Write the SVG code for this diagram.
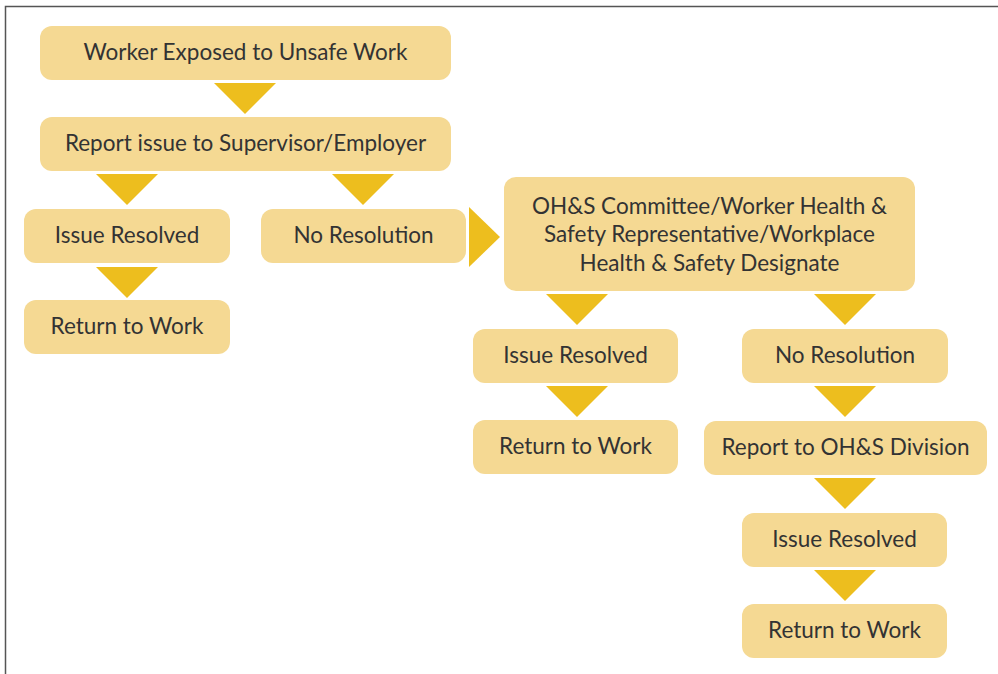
<svg xmlns="http://www.w3.org/2000/svg" width="998" height="674" viewBox="0 0 998 674">
<style>
.box{fill:#F5D993}
.arr{fill:#EDBE1E}
text{font-family:Lato,"Open Sans","Liberation Sans",sans-serif;font-size:22.5px;fill:#333333;text-anchor:middle;dominant-baseline:central}
.frame{fill:none;stroke:#555555;stroke-width:1.5}
</style>
<rect width="998" height="674" fill="#ffffff"/>
<path class="frame" d="M5.5,674 V6.5 H998"/>
<g id="connectors">
<polygon class="arr" points="214,83 276,83 245,114"/>
<polygon class="arr" points="96,174 158,174 127,205"/>
<polygon class="arr" points="332,174 394,174 363,205"/>
<polygon class="arr" points="96,267 158,267 127,298"/>
<polygon class="arr" points="469,207 500,237 469,267"/>
<polygon class="arr" points="546,294 608,294 577,325"/>
<polygon class="arr" points="814,294 876,294 845,325"/>
<polygon class="arr" points="546,386 608,386 577,417"/>
<polygon class="arr" points="814,386 876,386 845,417"/>
<polygon class="arr" points="814,478 876,478 845,509"/>
<polygon class="arr" points="814,570 876,570 845,601"/>
</g>
<g id="n1"><rect class="box" x="40" y="26" width="411" height="54" rx="12"/><text x="245.5" y="51">Worker Exposed to Unsafe Work</text></g>
<g id="n2"><rect class="box" x="40" y="117" width="411" height="54" rx="12"/><text x="245.5" y="142">Report issue to Supervisor/Employer</text></g>
<g id="n3"><rect class="box" x="24" y="209" width="206" height="54" rx="12"/><text x="127" y="234">Issue Resolved</text></g>
<g id="n4"><rect class="box" x="261" y="209" width="205" height="54" rx="12"/><text x="363.5" y="234">No Resolution</text></g>
<g id="n5"><rect class="box" x="24" y="300" width="206" height="54" rx="12"/><text x="127" y="325">Return to Work</text></g>
<g id="n6"><rect class="box" x="504" y="177" width="411" height="114" rx="12"/>
<text x="709.5" y="205">OH&amp;S Committee/Worker Health &amp;</text>
<text x="709.5" y="233.5">Safety Representative/Workplace</text>
<text x="709.5" y="262">Health &amp; Safety Designate</text></g>
<g id="n7"><rect class="box" x="473" y="329" width="205" height="54" rx="12"/><text x="575.5" y="354">Issue Resolved</text></g>
<g id="n8"><rect class="box" x="742" y="329" width="206" height="54" rx="12"/><text x="845" y="354">No Resolution</text></g>
<g id="n9"><rect class="box" x="473" y="420" width="205" height="54" rx="12"/><text x="575.5" y="445">Return to Work</text></g>
<g id="n10"><rect class="box" x="704" y="421" width="283" height="54" rx="12"/><text x="845.5" y="446">Report to OH&amp;S Division</text></g>
<g id="n11"><rect class="box" x="742" y="513" width="205" height="54" rx="12"/><text x="844.5" y="538">Issue Resolved</text></g>
<g id="n12"><rect class="box" x="742" y="604" width="205" height="54" rx="12"/><text x="844.5" y="629">Return to Work</text></g>
</svg>
